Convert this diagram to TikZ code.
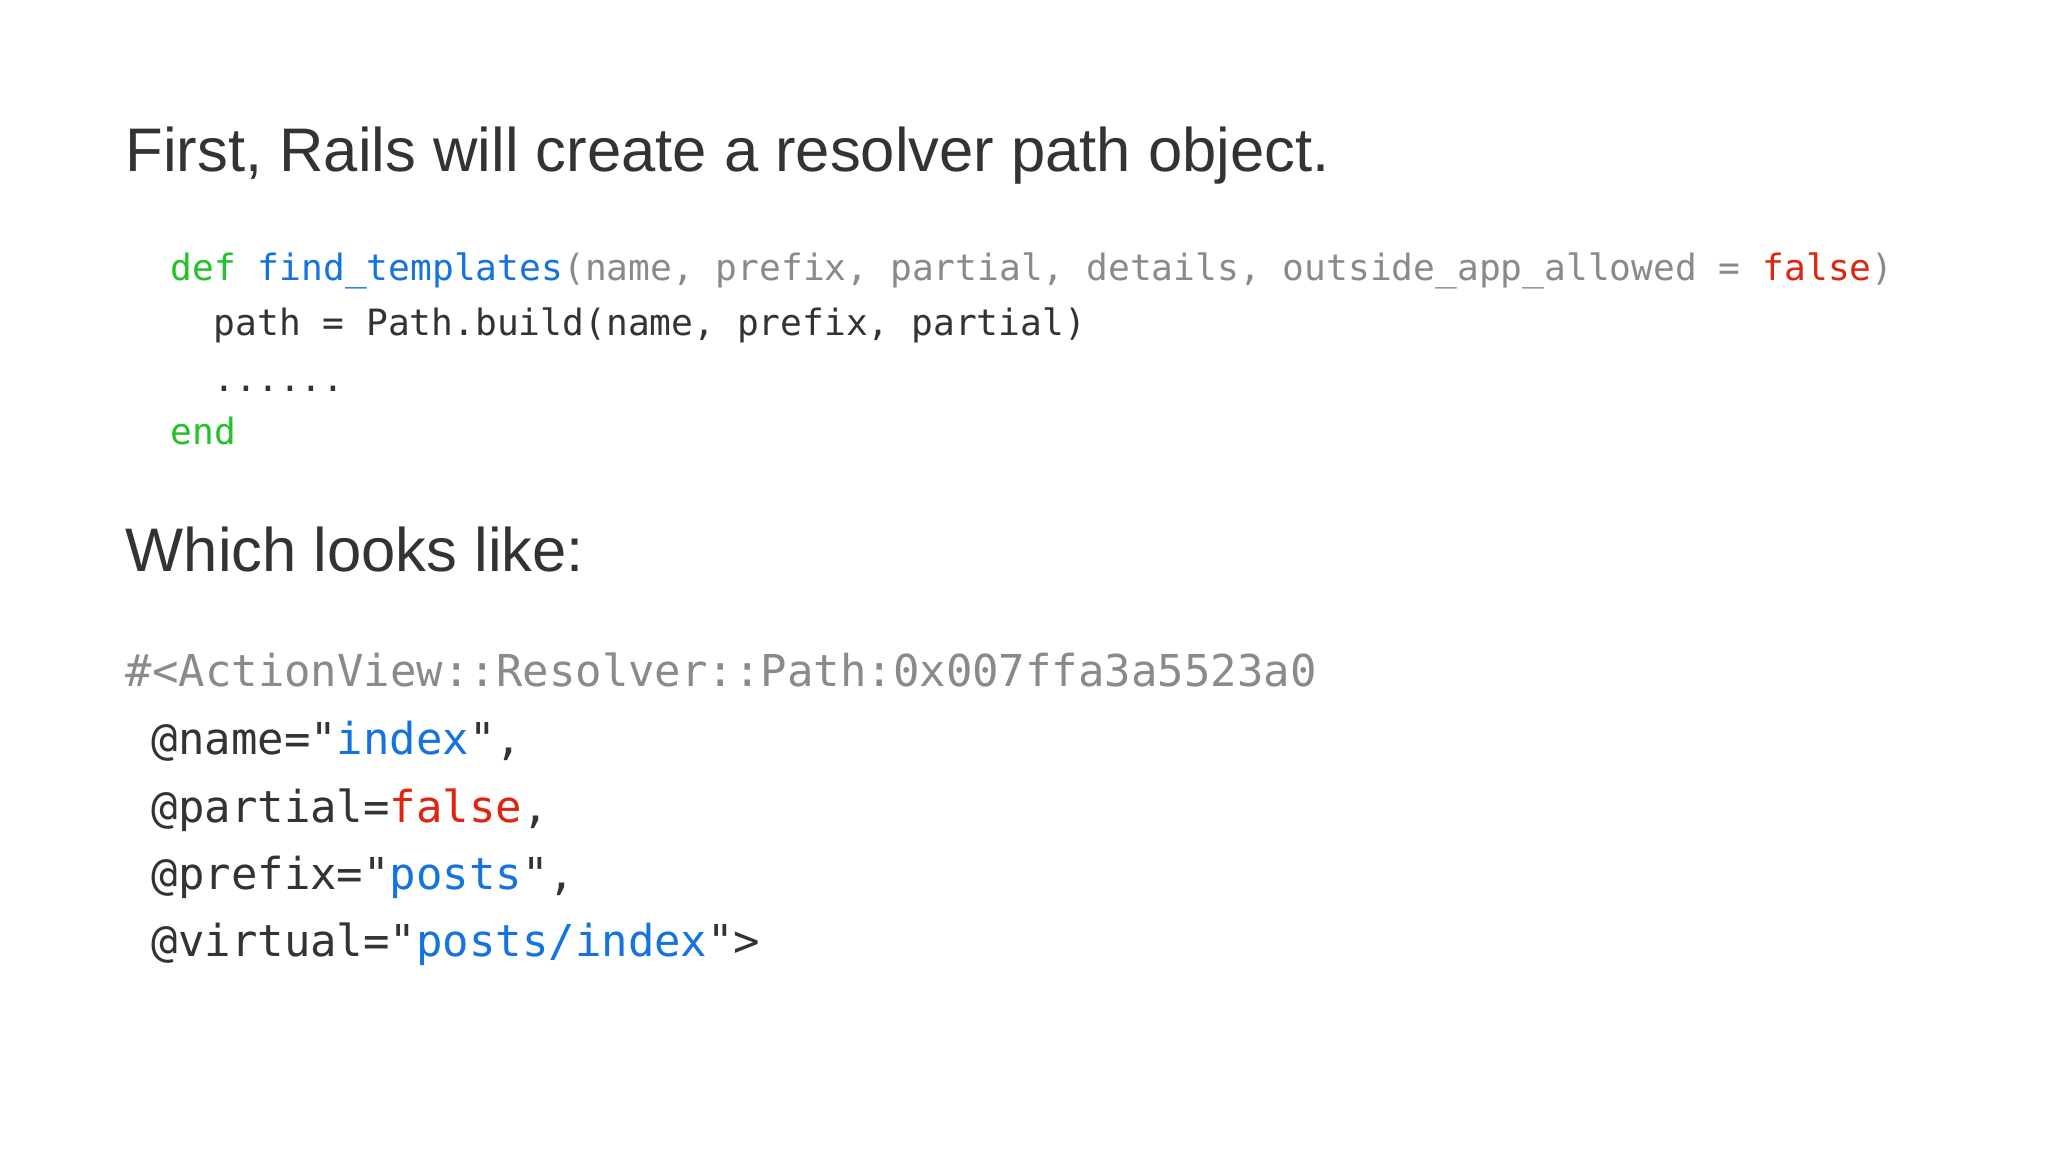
\documentclass[tikz,border=0pt]{standalone}
\usepackage{fontspec}
\setmainfont{Liberation Sans}
\setmonofont{DejaVu Sans Mono}
\definecolor{tx}{HTML}{333333}
\definecolor{kw}{HTML}{22C32A}
\definecolor{fn}{HTML}{1573E0}
\definecolor{rd}{HTML}{E0240F}
\definecolor{gr}{HTML}{8A8A8A}
\tikzset{
 title/.style={anchor=base west,inner sep=0pt,text=tx,font=\fontsize{17.5pt}{20pt}\selectfont},
 code/.style={anchor=base west,inner sep=0pt,text=tx,font=\ttfamily\fontsize{10.3pt}{12pt}\selectfont},
 obj/.style={anchor=base west,inner sep=0pt,text=tx,font=\ttfamily\fontsize{12.5pt}{14pt}\selectfont}
}
\begin{document}
\begin{tikzpicture}[x=0.01cm,y=-0.01cm]
\useasboundingbox[fill=white] (0,0) rectangle (2048,1152);
\node[title] (t1) at (125,172) {First, Rails will create a resolver path object.};
\node[code] (c1) at (170,281) {\textcolor{kw}{def} \textcolor{fn}{find\_templates}\textcolor{gr}{(name, prefix, partial, details, outside\_app\_allowed = }\textcolor{rd}{false}\textcolor{gr}{)}};
\node[code] (c2) at (213,336) {path = Path.build(name, prefix, partial)};
\node[code] (c3) at (213,392) {......};
\node[code] (c4) at (170,445) {\textcolor{kw}{end}};
\node[title] (t2) at (125,571) {Which looks like:};
\node[obj] (o1) at (125,686) {\textcolor{gr}{\#<ActionView::Resolver::Path:0x007ffa3a5523a0}};
\node[obj] (o2) at (151,754) {@name="\textcolor{fn}{index}",};
\node[obj] (o3) at (151,822) {@partial=\textcolor{rd}{false},};
\node[obj] (o4) at (151,889) {@prefix="\textcolor{fn}{posts}",};
\node[obj] (o5) at (151,956) {@virtual="\textcolor{fn}{posts/index}">};
\end{tikzpicture}
\end{document}
